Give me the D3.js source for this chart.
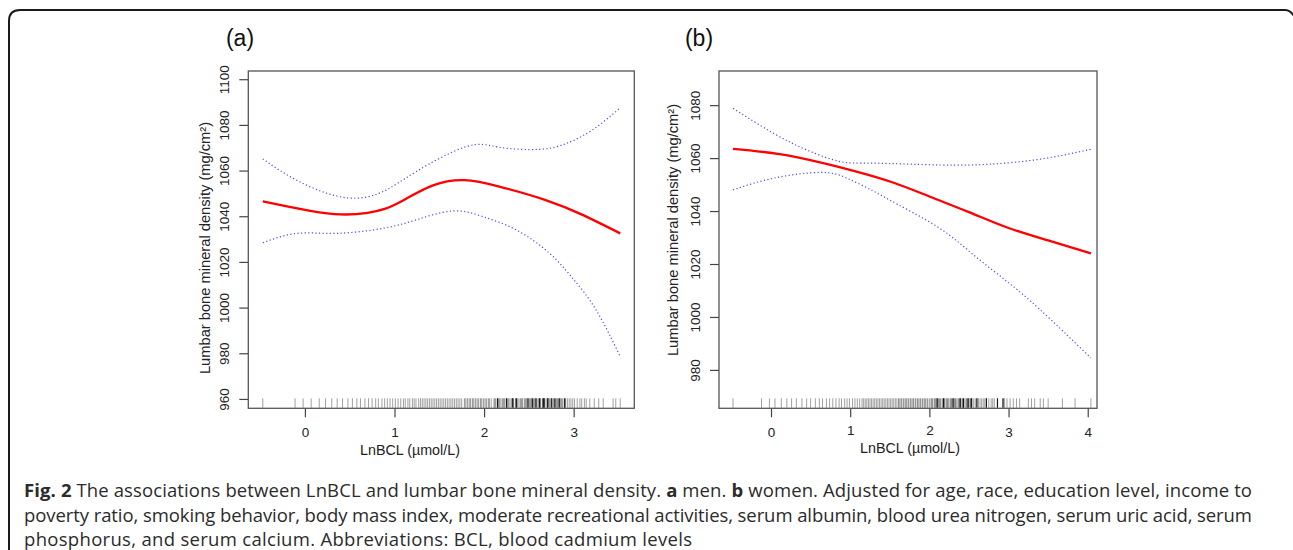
<!DOCTYPE html>
<html><head><meta charset="utf-8">
<script src="https://cdn.jsdelivr.net/npm/d3@7"></script>
<style>
html,body{margin:0;padding:0;background:#fff;}
svg{display:block;}
</style></head>
<body>
<svg id="c" width="1293" height="550"></svg>
<script>
// ---------- DATA ----------
const ticksA_x = [0, 1, 2, 3];
const ticksA_y = [960, 980, 1000, 1020, 1040, 1060, 1080, 1100];
const ticksB_x = [0, 1, 2, 3, 4];
const ticksB_y = [980, 1000, 1020, 1040, 1060, 1080];

// panel (a) men: [LnBCL, BMD]
const fitA   = [[-0.47,1046.5],[-0.2,1044.3],[0.06,1042.4],[0.4,1040.8],[0.7,1041.5],[0.9,1043.3],[1.1,1047],[1.43,1053.5],[1.78,1055.8],[2.17,1053],[2.68,1047.2],[3.10,1040.6],[3.52,1032.5]];
const upperA = [[-0.47,1065.1],[-0.06,1055.1],[0.46,1048.1],[0.87,1050.8],[1.24,1059.5],[1.80,1070.5],[2.17,1070.2],[2.62,1069.3],[2.92,1071.9],[3.21,1077.8],[3.52,1087.5]];
const lowerA = [[-0.47,1028.4],[-0.09,1032.5],[0.35,1032.5],[0.87,1034.7],[1.24,1038.4],[1.65,1042.3],[1.99,1039.8],[2.36,1034],[2.73,1023.8],[2.99,1012.8],[3.25,999],[3.52,978.5]];

// panel (b) women
const fitB   = [[-0.48,1063.5],[0.11,1061.5],[0.66,1058.1],[1.08,1054.9],[1.55,1050.7],[2.0,1045.5],[2.5,1039.6],[3.0,1033.6],[3.5,1028.9],[4.04,1024]];
const upperB = [[-0.48,1078.8],[0.03,1069.4],[0.45,1063.1],[0.87,1058.7],[1.29,1058.1],[2.13,1057.4],[2.76,1057.7],[3.40,1059.6],[4.04,1063.3]];
const lowerB = [[-0.48,1048],[0.03,1052.4],[0.62,1054.6],[0.96,1052.4],[1.29,1047.6],[1.6,1042.5],[2.13,1033.5],[2.56,1023.4],[2.98,1013.4],[3.40,1002.7],[4.04,984.5]];

// rug (observed LnBCL values)
const rugA = [-0.47,-0.11,-0.02,0.07,0.16,0.23,0.30,0.36,0.42,0.48,0.53,0.58,0.62,0.67,0.71,0.75,0.79,0.82,0.86,0.89,0.92,0.95,0.98,1.01,1.04,1.07,1.10,1.12,1.15,1.17,1.20,1.22,1.24,1.27,1.29,
 1.31,1.33,1.35,1.37,1.39,1.41,1.43,1.45,1.47,1.49,1.51,1.53,1.55,1.57,1.59,1.61,1.63,1.65,1.67,1.69,1.71,1.73,1.75,
 1.78,1.79,1.81,1.82,1.84,1.85,1.87,1.88,1.90,1.91,1.93,1.94,1.96,1.97,1.99,2.00,2.02,2.03,2.05,2.06,2.08,
 2.11,2.12,2.13,2.15,2.16,2.17,2.18,2.20,2.21,2.22,2.23,2.25,2.26,2.27,2.28,2.30,2.31,2.32,2.33,2.35,2.36,2.37,2.38,2.40,2.41,2.42,2.43,2.45,2.46,2.47,2.48,2.50,2.51,2.52,2.53,2.55,2.56,2.57,2.58,2.60,2.61,2.62,2.63,2.65,2.66,2.67,2.68,2.70,2.71,2.72,2.73,2.75,2.76,2.77,2.78,2.80,2.81,2.82,2.83,2.85,2.86,2.87,2.88,2.90,2.91,
 2.93,2.95,2.97,2.99,3.01,3.04,3.07,3.09,3.12,3.14,3.18,3.23,3.28,3.33,3.44,3.47,3.52];
const rugA_heavy = [2.15,2.25,2.32,2.36,2.49,2.54,2.58,2.62,2.66,2.67,2.71,2.75,2.79,2.84,2.90];

const rugB = [-0.48,-0.12,-0.02,0.05,0.13,0.20,0.26,0.32,0.39,0.45,0.50,0.56,0.61,0.65,0.70,0.74,0.78,0.82,0.86,0.89,0.93,0.96,0.99,1.03,1.06,1.09,1.12,1.15,
 1.17,1.19,1.21,1.23,1.25,1.27,1.29,1.31,1.33,1.35,1.37,1.39,1.41,1.43,1.45,1.47,1.49,1.51,1.53,1.55,1.57,1.59,
 1.61,1.62,1.64,1.65,1.67,1.68,1.70,1.71,1.73,1.74,1.76,1.77,1.79,1.80,1.82,1.83,1.85,1.86,1.88,1.89,1.91,1.92,1.94,1.95,1.97,1.98,2.00,
 2.02,2.03,2.04,2.06,2.07,2.08,2.09,2.11,2.12,2.13,2.14,2.16,2.17,2.18,2.19,2.21,2.22,2.23,2.24,2.26,2.27,2.28,2.29,2.31,2.32,2.33,2.34,2.36,2.37,2.38,2.39,2.41,2.42,2.43,2.44,2.46,2.47,2.48,2.49,2.51,2.52,2.53,2.54,2.56,
 2.58,2.60,2.62,2.64,2.66,2.68,2.70,2.72,2.75,2.78,2.80,2.82,2.86,2.93,2.95,2.98,3.02,3.06,3.10,3.14,3.25,3.29,3.33,3.40,3.44,3.50,3.68,3.84,4.04];
const rugB_heavy = [2.10,2.18,2.30,2.39,2.43,2.49,2.53,2.60,2.72,2.86,2.93];

const panelLabels = ["(a)", "(b)"];
const xTitle = "LnBCL (\u00b5mol/L)";
const yTitle = "Lumbar bone mineral density (mg/cm\u00b2)";

// ---------- DRAW ----------
const svg = d3.select("#c");
const AX = "'Liberation Sans', Arial, Helvetica, sans-serif";

// outer frame (rounded top-left, chamfer at top-right)
svg.append("path")
  .attr("d", "M9,550 L9,21 Q9,10 20,10 L1285,10 Q1290,10 1294,16")
  .attr("fill", "none").attr("stroke", "#1a1a1a").attr("stroke-width", 2);

const panels = [
  {label: panelLabels[0], lx: 240, left: 248.3, right: 634.3, xd: [-0.632, 3.677], yd: [955.9, 1103.6],
   xt: ticksA_x, yt: ticksA_y, fit: fitA, up: upperA, lo: lowerA, rug: rugA, heavy: rugA_heavy,
   xtx: 410, xtBase: 454.5, ytx: 43, yty: 248},
  {label: panelLabels[1], lx: 699, left: 719, right: 1097, xd: [-0.657, 4.117], yd: [965.5, 1092.9],
   xt: ticksB_x, yt: ticksB_y, fit: fitB, up: upperB, lo: lowerB, rug: rugB, heavy: rugB_heavy,
   xtx: 910, xtBase: 452.5, ytx: 46, yty: 230}
];
const plotTop = 71, plotBottom = 408.3;

panels.forEach((p, pi) => {
  const x = d3.scaleLinear().domain(p.xd).range([p.left, p.right]);
  const y = d3.scaleLinear().domain(p.yd).range([plotBottom, plotTop]);
  const g = svg.append("g");

  // panel label
  g.append("text").attr("x", p.lx).attr("y", 46).attr("text-anchor", "middle")
    .attr("font-family", AX).attr("font-size", 23).attr("fill", "#111").text(p.label);

  // y axis
  const ya = g.append("g").attr("transform", `translate(${p.left},0)`)
    .call(d3.axisLeft(y).tickValues(p.yt).tickSize(9).tickSizeOuter(0).tickFormat(d3.format("d")));
  ya.select(".domain").remove();
  ya.selectAll(".tick line").attr("stroke", "#444").attr("stroke-width", 1.2);
  ya.selectAll(".tick text").attr("transform", "rotate(-90)").attr("x", 0).attr("y", -24).attr("dy", "0.35em")
    .style("text-anchor", "middle").attr("font-family", AX).attr("font-size", 13.5).attr("fill", "#222");

  // x axis
  const xa = g.append("g").attr("transform", `translate(0,${plotBottom})`)
    .call(d3.axisBottom(x).tickValues(p.xt).tickSize(9).tickSizeOuter(0).tickFormat(d3.format("d")));
  xa.select(".domain").remove();
  xa.selectAll(".tick line").attr("stroke", "#444").attr("stroke-width", 1.2);
  xa.selectAll(".tick text").attr("y", 29).attr("dy", 0)
    .attr("font-family", AX).attr("font-size", 13.5).attr("fill", "#222");
  if (pi === 1) {
    xa.selectAll(".tick text").filter(d => d === 1 || d === 2).attr("y", 26.5);
  }

  // titles
  g.append("text").attr("x", p.xtx).attr("y", p.xtBase).attr("text-anchor", "middle")
    .attr("font-family", AX).attr("font-size", 14.3).attr("fill", "#222").text(xTitle);
  g.append("text").attr("transform", `translate(${p.left - p.ytx},${p.yty}) rotate(-90)`)
    .attr("text-anchor", "middle").attr("dy", "0.35em")
    .attr("font-family", AX).attr("font-size", 14.7).attr("fill", "#222").text(yTitle);

  // rug
  const rugY0 = plotBottom - 10, rugY1 = plotBottom - 0.5;
  g.append("g").selectAll("line").data(p.rug).join("line")
    .attr("x1", d => x(d)).attr("x2", d => x(d)).attr("y1", rugY0).attr("y2", rugY1)
    .attr("stroke", "#000").attr("stroke-width", 0.9).attr("stroke-opacity", 0.42);
  g.append("g").selectAll("line").data(p.heavy).join("line")
    .attr("x1", d => x(d)).attr("x2", d => x(d)).attr("y1", rugY0).attr("y2", rugY1)
    .attr("stroke", "#000").attr("stroke-width", 1.2).attr("stroke-opacity", 0.85);

  // curves
  const line = d3.line().x(d => x(d[0])).y(d => y(d[1])).curve(d3.curveNatural);
  [p.up, p.lo].forEach(s => {
    g.append("path").attr("d", line(s)).attr("fill", "none")
      .attr("stroke", "#4a4aff").attr("stroke-width", 1.2).attr("stroke-dasharray", "1.2,2.4");
  });
  g.append("path").attr("d", line(p.fit)).attr("fill", "none")
    .attr("stroke", "#ff0000").attr("stroke-width", 2.3);

  // box
  g.append("rect").attr("x", p.left).attr("y", plotTop).attr("width", p.right - p.left).attr("height", plotBottom - plotTop)
    .attr("fill", "none").attr("stroke", "#555").attr("stroke-width", 1.3);
});

// caption
const CF = "'Open Sans', 'Noto Sans', sans-serif";
const cap = svg.append("g").attr("font-family", CF).attr("font-size", 18.5).attr("fill", "#2b2b2b");
const l1 = cap.append("text").attr("x", 24).attr("y", 497)
  .attr("textLength", 1228).attr("lengthAdjust", "spacing");
l1.append("tspan").attr("font-weight", "bold").text("Fig. 2");
l1.append("tspan").text(" The associations between LnBCL and lumbar bone mineral density. ");
l1.append("tspan").attr("font-weight", "bold").text("a");
l1.append("tspan").text(" men. ");
l1.append("tspan").attr("font-weight", "bold").text("b");
l1.append("tspan").text(" women. Adjusted for age, race, education level, income to");
cap.append("text").attr("x", 24).attr("y", 521.5)
  .attr("textLength", 1228).attr("lengthAdjust", "spacing")
  .text("poverty ratio, smoking behavior, body mass index, moderate recreational activities, serum albumin, blood urea nitrogen, serum uric acid, serum");
cap.append("text").attr("x", 24).attr("y", 546)
  .attr("textLength", 668).attr("lengthAdjust", "spacing")
  .text("phosphorus, and serum calcium. Abbreviations: BCL, blood cadmium levels");
</script>
</body></html>
